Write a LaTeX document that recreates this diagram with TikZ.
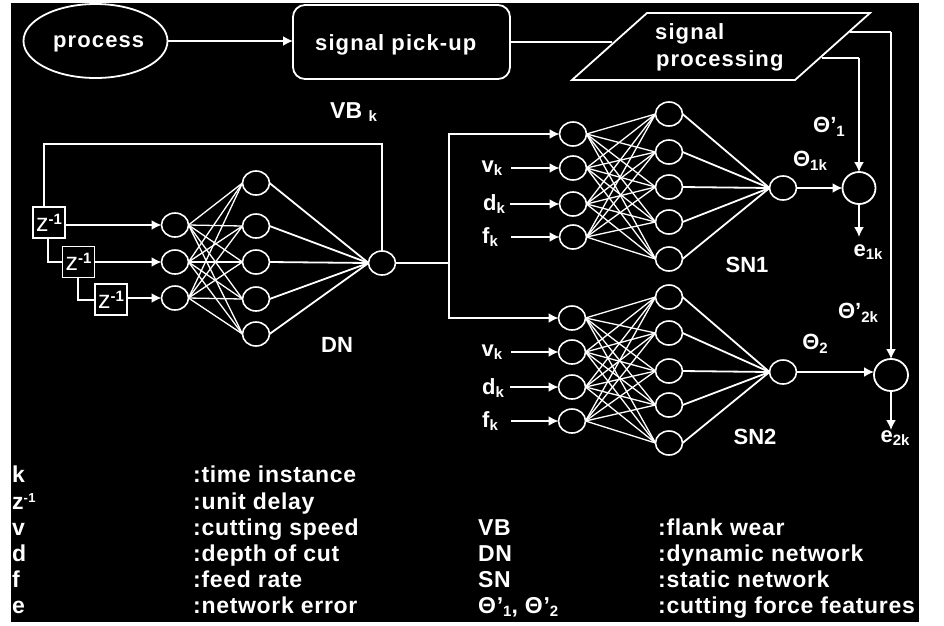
\documentclass[tikz,border=0pt]{standalone}
\usepackage{fontspec}
\setmainfont{Liberation Sans}
\newfontfamily\spaced[LetterSpace=5]{Liberation Sans}
\newfontfamily\legfont[LetterSpace=3]{Liberation Sans}
\usetikzlibrary{shapes.geometric,arrows.meta}
\newcommand{\fsz}[1]{\fontsize{#1}{#1}\selectfont}
\newcommand{\lowr}[1]{\raisebox{-3.5pt}{\fsz{15}\bfseries #1}}
\newcommand{\thetap}{\bfseries\char"0398}
\tikzset{
  x=1pt,y=-1pt,
  wire/.style={draw=white,line width=1.8pt},
  arrowed/.style={wire,-{Latex[length=10pt,width=10pt]}},
  neuron/.style={ellipse,draw=white,line width=1.6pt,minimum width=27pt,minimum height=24pt,inner sep=0pt,outer sep=0pt},
  summer/.style={ellipse,draw=white,line width=1.8pt,minimum width=33pt,minimum height=32pt,inner sep=0pt,outer sep=0pt},
  delaybox/.style={rectangle,draw=white,line width=1.6pt,minimum width=32pt,minimum height=31pt,inner sep=0pt,outer sep=0pt,text=white,font=\fsz{25}},
  lab/.style={text=white,inner sep=0pt,font=\fsz{22}\bfseries},
  slab/.style={text=white,inner sep=0pt,anchor=base west,font=\fsz{22}\bfseries\spaced},
  leg/.style={text=white,inner sep=0pt,anchor=base west,font=\fsz{23}\bfseries\legfont},
}
\begin{document}
\begin{tikzpicture}
\useasboundingbox (0,0) rectangle (944,625);
\fill[white] (0,0) rectangle (944,625);
\fill[black] (11,3) rectangle (919,622);

% top row
\node[ellipse,draw=white,line width=1.8pt,minimum width=144pt,minimum height=74pt,inner sep=0pt,outer sep=0pt] (proc) at (95.5,41) {};
\node[slab] (proct) at (53,47) {process};
\node[rectangle,rounded corners=12pt,draw=white,line width=1.8pt,minimum width=217pt,minimum height=74pt,inner sep=0pt,outer sep=0pt] (pick) at (401.5,42) {};
\node[slab] (pickt) at (315,50) {signal pick-up};
\draw[white,line width=1.8pt] (647,13) coordinate (pa) -- (870,13) coordinate (pb) -- (795,80) coordinate (pc) -- (572,80) coordinate (pd) -- cycle;
\coordinate (pin) at (612,42);
\coordinate (pout1) at (850,32);
\coordinate (pout2) at (822,58);
\node[slab] (sig1) at (655,39) {signal};
\node[slab] (sig2) at (656,66) {processing};
\draw[arrowed] (proc.east) -- (pick.west |- proc.east);
\draw[wire] (pick.east) -- (pin);
\node[lab,anchor=base west,font=\fsz{23}\bfseries] (vb) at (330,118) {VB \lowr{k}};

% DN
\foreach \n/\y in {1/225,2/262,3/298}{\node[neuron] (da\n) at (175,\y) {};}
\foreach \n/\y in {1/183,2/226,3/262,4/299,5/334}{\node[neuron] (db\n) at (256,\y) {};}
\node[neuron] (do) at (382,263) {};
\foreach \i in {1,2,3}{\foreach \j in {1,...,5}{\draw[wire,line width=1.3pt] (da\i.east) -- (db\j.west);}}
\foreach \j in {1,...,5}{\draw[wire] (db\j.east) -- (do.west);}
\node[delaybox] (z1) at (49,222.5) {z\raisebox{7pt}{\fsz{15}\bfseries -1}};
\node[delaybox] (z2) at (78.5,262) {z\raisebox{7pt}{\fsz{15}\bfseries -1}};
\node[delaybox] (z3) at (111,299.5) {z\raisebox{7pt}{\fsz{15}\bfseries -1}};
\draw[arrowed] (z1.east |- da1) -- (da1.west);
\draw[arrowed] (z2.east |- da2) -- (da2.west);
\draw[arrowed] (z3.east |- da3) -- (da3.west);
\coordinate (fbr) at (382,144);
\coordinate (fbl) at (44,144);
\draw[wire] (do.north) -- (fbr) -- (fbl) -- (fbl |- z1.north);
\draw[wire] (z1.south -| 48,0) -- (48,262) -- (z2.west |- 0,262);
\draw[wire] (z2.south -| 78,0) -- (78,300) -- (z3.west |- 0,300);
\node[lab] (dnl) at (337,345) {DN};

% SN1
\foreach \n/\y in {1/134,2/168,3/204,4/237}{\node[neuron] (sa\n) at (573,\y) {};}
\foreach \n/\y in {1/114,2/152,3/187,4/222,5/259}{\node[neuron] (sb\n) at (669,\y) {};}
\node[neuron] (so) at (783,188) {};
\foreach \i in {1,...,4}{\foreach \j in {1,...,5}{\draw[wire,line width=1.3pt] (sa\i.east) -- (sb\j.west);}}
\foreach \j in {1,...,5}{\draw[wire] (sb\j.east) -- (so.west);}
\node[summer] (s1) at (859,188) {};
\coordinate (e1end) at (859,237);
\draw[arrowed] (so.east) -- (s1.west);
\draw[arrowed] (s1.south) -- (e1end);
\draw[wire] (pout2) -- (859,58) coordinate (t1);
\draw[arrowed] (t1) -- (s1.north);
\node[lab] (l1) at (829,127) {\thetap’\lowr{1}};
\node[lab] (l2) at (810,161) {\thetap\lowr{1k}};
\node[lab] (l3) at (868,252) {e\lowr{1k}};
\node[lab] (sn1) at (747,265) {SN1};
\foreach \n/\t/\x/\xs/\y in {2/v/492/511/168,3/d/494/510/204,4/f/490/511/237}{
  \node[lab] (sl\n) at (\x,\y) {\t\lowr{k}};
  \coordinate (ss\n) at (\xs,\y);
  \draw[arrowed] (ss\n |- sa\n.west) -- (sa\n.west);
}

% SN2
\foreach \n/\y in {1/318,2/352,3/387,4/421}{\node[neuron] (ta\n) at (572,\y) {};}
\foreach \n/\y in {1/297,2/333,3/371,4/405,5/443}{\node[neuron] (tb\n) at (669,\y) {};}
\node[neuron] (to) at (783,372) {};
\foreach \i in {1,...,4}{\foreach \j in {1,...,5}{\draw[wire,line width=1.3pt] (ta\i.east) -- (tb\j.west);}}
\foreach \j in {1,...,5}{\draw[wire] (tb\j.east) -- (to.west);}
\node[summer,minimum width=34pt] (s2) at (891,375) {};
\coordinate (e2end) at (891,430);
\draw[arrowed] (to.east) -- (s2.west |- to.east);
\draw[arrowed] (s2.south) -- (e2end);
\draw[wire] (pout1) -- (891,32) coordinate (t2);
\draw[arrowed] (t2) -- (s2.north);
\node[lab] (l4) at (858,313) {\thetap’\lowr{2k}};
\node[lab] (l5) at (815,344) {\thetap\lowr{2}};
\node[lab] (l6) at (895,438) {e\lowr{2k}};
\node[lab] (sn2) at (755,437) {SN2};
\foreach \n/\t/\x/\xs/\y in {2/v/492/511/352,3/d/493/510/388,4/f/490/511/421}{
  \node[lab] (tl\n) at (\x,\y) {\t\lowr{k}};
  \coordinate (ts\n) at (\xs,\y);
  \draw[arrowed] (ts\n |- ta\n.west) -- (ta\n.west);
}

% link DN -> SN
\coordinate (j) at (449,263);
\coordinate (jt) at (449,134);
\coordinate (jb) at (449,318);
\draw[wire] (do.east) -- (j);
\draw[arrowed] (j) -- (jt) -- (sa1.west);
\draw[arrowed] (j) -- (jb) -- (ta1.west);

% legend
\foreach \n/\y/\a/\b in {1/482/k/:time instance,2/509/{z\raisebox{7pt}{\fsz{13}\bfseries -1}}/:unit delay,3/535/v/:cutting speed,4/561/d/:depth of cut,5/587/f/:feed rate,6/613/e/:network error}{
  \node[leg] (la\n) at (12,\y) {\a};
  \node[leg] (lb\n) at (193,\y) {\b};
}
\foreach \n/\y/\a/\b in {3/535/VB/:flank wear,4/561/DN/:dynamic network,5/587/SN/:static network,6/613/{\char"0398’\lowr{1}, \char"0398’\lowr{2}}/:cutting force features}{
  \node[leg] (lc\n) at (478,\y) {\a};
  \node[leg] (ld\n) at (658,\y) {\b};
}
\end{tikzpicture}
\end{document}
